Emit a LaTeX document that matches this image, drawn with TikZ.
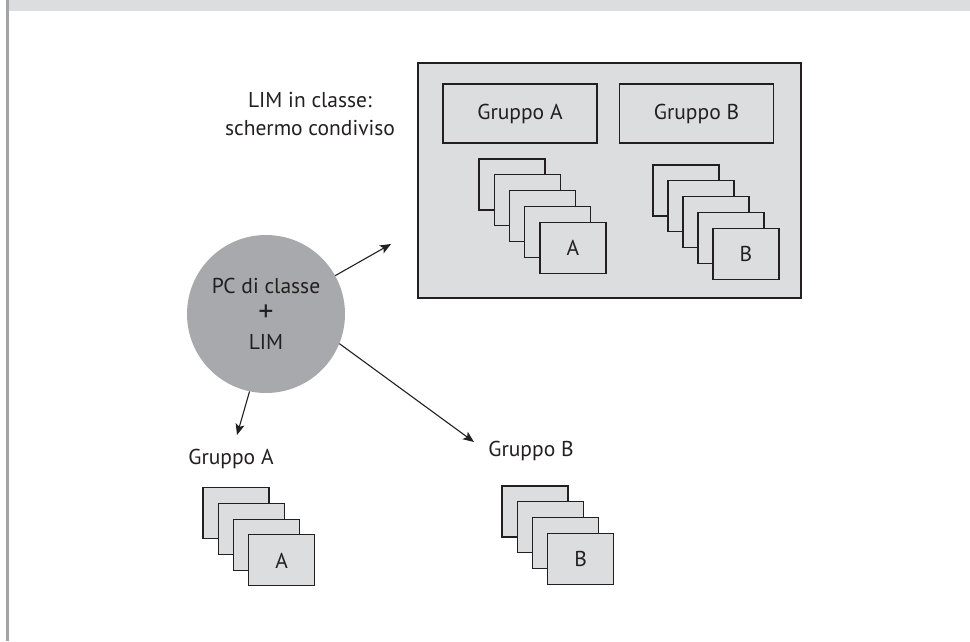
\documentclass[tikz,border=0pt]{standalone}
\usepackage{fontspec}
\setmainfont{PT Sans}
\usetikzlibrary{arrows.meta,positioning}
\definecolor{ink}{HTML}{231F20}
\definecolor{paper}{HTML}{DCDDDE}
\definecolor{disc}{HTML}{A7A9AC}
\definecolor{rulegray}{HTML}{A3A4A6}
\tikzset{card/.style={draw=ink,line width=1.1pt,fill=paper,minimum width=66pt,minimum height=51pt,inner sep=0pt,font=\fontsize{21.5}{24}\selectfont,text=ink},grp/.style={card,minimum width=154pt,minimum height=59pt},flow/.style={-{Stealth[length=11pt,width=9pt,inset=2.5pt]},line width=1.1pt,draw=ink},note/.style={font=\fontsize{21.5}{28}\selectfont,text=ink,align=center,inner sep=0pt}}

\begin{document}
\begin{tikzpicture}[x=1pt,y=-1pt]
\useasboundingbox (0,0) rectangle (970,641);
\fill[paper] (9,0) rectangle (970,11);
\draw[rulegray,line width=3pt] (7.5,0) -- (7.5,641);
% schermo condiviso
\node[draw=ink,line width=1.8pt,fill=paper,minimum width=383pt,minimum height=235pt,inner sep=0pt] (lim) at (609.5,180.5) {};
\node[grp] (ga) at (520,113.5) {Gruppo A};
\node[grp] (gb) at (696.5,113.5) {Gruppo B};
\foreach \i in {0,...,3} \node[card] (la\i) at ({512+15.25*\i},{184.5+15.9*\i}) {};
\node[card] (la4) at (573,248.1) {A};
\foreach \i in {0,...,3} \node[card] (lb\i) at ({686+15*\i},{190.5+15.9*\i}) {};
\node[card] (lb4) at (746,254.1) {B};
\node[note] (limtxt) at (310,114) {LIM in classe:\\schermo condiviso};
% PC di classe
\node[circle,fill=disc,minimum size=158pt,note] (pc) at (266,314) {PC di classe\\{\fontsize{30}{28}\selectfont +}\\LIM};
\coordinate (tiplim) at (391,244);
\coordinate (tipb) at (474,442);
\coordinate (tipa) at (237,435);
\draw[flow] (pc.29) -- (tiplim);
\draw[flow] (pc.-22) -- (tipb);
\draw[flow] (pc.-102) -- (tipa);
% gruppi
\node[note] (txta) at (231,459) {Gruppo A};
\node[note] (txtb) at (531,451) {Gruppo B};
\foreach \i in {0,...,2} \node[card] (pa\i) at ({236+15.2*\i},{513+15.8*\i}) {};
\node[card] (pa3) at (281.6,560.4) {A};
\foreach \i in {0,...,2} \node[card] (pb\i) at ({535+15.2*\i},{511.5+15.8*\i}) {};
\node[card] (pb3) at (580.6,558.9) {B};
\end{tikzpicture}
\end{document}
